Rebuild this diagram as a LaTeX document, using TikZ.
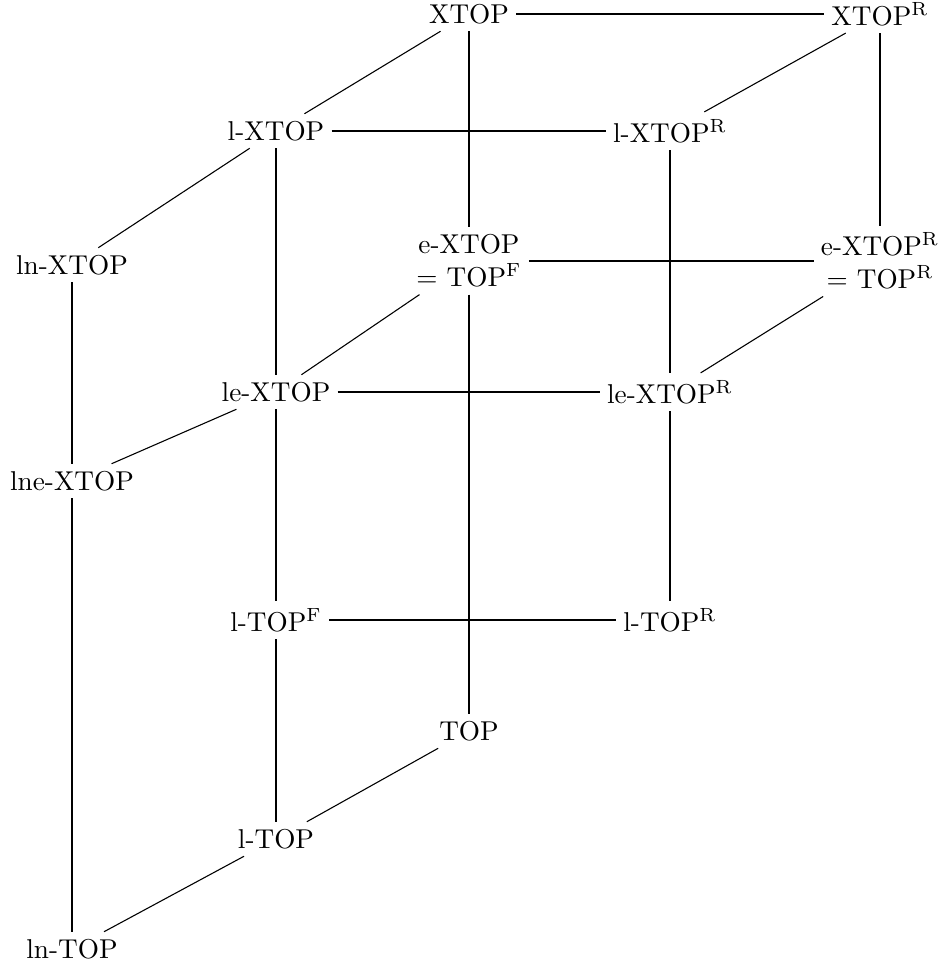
\documentclass[tikz,border=0pt]{standalone}
\begin{document}
\begin{tikzpicture}[x=0.367pt,y=-0.367pt,
  lab/.style={inner sep=2.5pt, align=center},
  every path/.style={line width=0.4pt}]
\useasboundingbox (0,0) rectangle (938,966);
\node[lab] (xtop) at (469,14) {XTOP};
\node[lab] (xtopr) at (880,14) {XTOP$^{\mathrm{R}}$};
\node[lab] (lxtop) at (276,131) {l-XTOP};
\node[lab] (lxtopr) at (670,131) {l-XTOP$^{\mathrm{R}}$};
\node[lab] (lnxtop) at (72,265) {ln-XTOP};
\node[lab] (extop) at (469,261) {e-XTOP\\ $=$ TOP$^{\mathrm{F}}$};
\node[lab] (extopr) at (880,261) {e-XTOP$^{\mathrm{R}}$\\ $=$ TOP$^{\mathrm{R}}$};
\node[lab] (lextop) at (276,392) {le-XTOP};
\node[lab] (lextopr) at (670,392) {le-XTOP$^{\mathrm{R}}$};
\node[lab] (lnextop) at (72,481) {lne-XTOP};
\node[lab] (ltopf) at (276,620) {l-TOP$^{\mathrm{F}}$};
\node[lab] (ltopr) at (670,620) {l-TOP$^{\mathrm{R}}$};
\node[lab] (top) at (469,731) {TOP};
\node[lab] (ltop) at (276,839) {l-TOP};
\node[lab] (lntop) at (72,949) {ln-TOP};
\draw (xtop) -- (xtopr);
\draw (xtop) -- (lxtop);
\draw (xtop) -- (extop);
\draw (xtopr) -- (lxtopr);
\draw (xtopr) -- (extopr);
\draw (lxtop) -- (lxtopr);
\draw (lxtop) -- (lnxtop);
\draw (lxtop) -- (lextop);
\draw (lxtopr) -- (lextopr);
\draw (extop) -- (extopr);
\draw (extop) -- (lextop);
\draw (extop) -- (top);
\draw (extopr) -- (lextopr);
\draw (lnxtop) -- (lnextop);
\draw (lextop) -- (lextopr);
\draw (lextop) -- (lnextop);
\draw (lextop) -- (ltopf);
\draw (lextopr) -- (ltopr);
\draw (lnextop) -- (lntop);
\draw (ltopf) -- (ltopr);
\draw (ltopf) -- (ltop);
\draw (top) -- (ltop);
\draw (ltop) -- (lntop);
\end{tikzpicture}
\end{document}
